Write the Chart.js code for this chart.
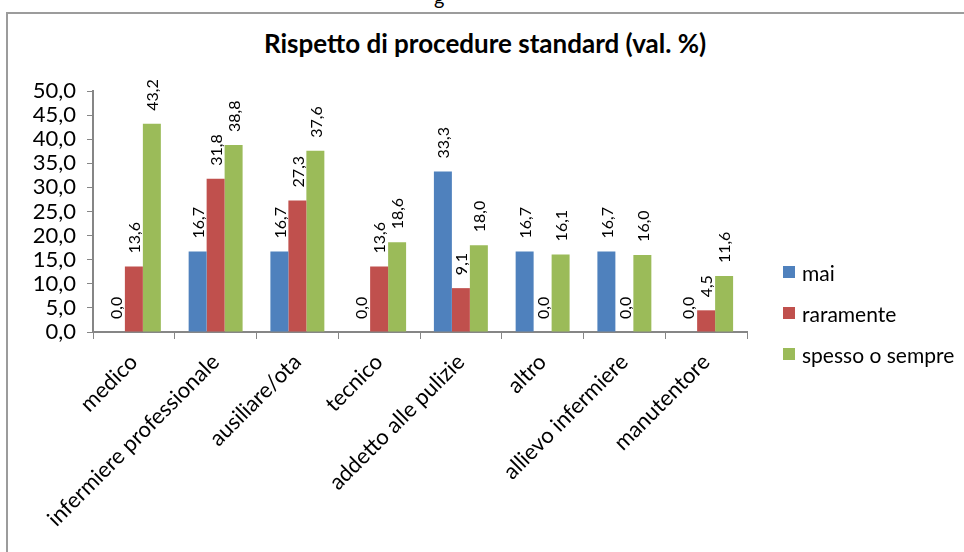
<!DOCTYPE html>
<html>
<head>
<meta charset="utf-8">
<script src="https://cdn.jsdelivr.net/npm/chart.js@4.4.1/dist/chart.umd.min.js"></script>
<style>
  body { margin: 0; background: #fff; font-family: Lato, sans-serif; }
  #wrap { position: relative; width: 964px; height: 552px; overflow: hidden; }
  #frame { position: absolute; left: 6px; top: 12px; width: 1000px; height: 600px; border: 2px solid #9c9c9c; box-sizing: border-box; }
  #cut { position: absolute; left: 434px; top: -15px; font-size: 20px; color: #000; }
  #title { position: absolute; left: 0; width: 970px; top: 27px; text-align: center; font-size: 26px; font-weight: bold; color: #000; line-height: 32px; }
  #chart { position: absolute; left: 0; top: 0; }
  #legend { position: absolute; left: 783px; top: 261px; }
  .item { display: flex; align-items: center; height: 22px; margin-bottom: 19px; font-size: 21px; color: #000; }
  .box { width: 12px; height: 12px; margin-right: 7px; }
</style>
</head>
<body>
<div id="wrap">
  <div id="cut">g</div>
  <div id="frame"></div>
  <div id="title">Rispetto di procedure standard (val. %)</div>
  <canvas id="chart" width="964" height="552"></canvas>
  <div id="legend"></div>
</div>
<script>
const categories = ['medico', 'infermiere professionale', 'ausiliare/ota', 'tecnico',
  'addetto alle pulizie', 'altro', 'allievo infermiere', 'manutentore'];
const seriesNames = ['mai', 'raramente', 'spesso o sempre'];
const maiValues = [0.0, 16.7, 16.7, 0.0, 33.3, 16.7, 16.7, 0.0];
const raramenteValues = [13.6, 31.8, 27.3, 13.6, 9.1, 0.0, 0.0, 4.5];
const spessoValues = [43.2, 38.8, 37.6, 18.6, 18.0, 16.1, 16.0, 11.6];
const colors = ['#4f81bd', '#c0504d', '#9bbb59'];

const fmt = v => v.toFixed(1).replace('.', ',');

// etichette dei valori ruotate sopra le barre
const valueLabels = {
  id: 'valueLabels',
  afterDatasetsDraw(chart) {
    const ctx = chart.ctx;
    ctx.save();
    ctx.font = '16px Lato';
    ctx.fillStyle = '#000';
    ctx.textAlign = 'left';
    ctx.textBaseline = 'middle';
    chart.data.datasets.forEach((ds, i) => {
      chart.getDatasetMeta(i).data.forEach((bar, j) => {
        ctx.save();
        ctx.translate(bar.x + 1, bar.y - 13);
        ctx.rotate(-Math.PI / 2);
        ctx.fillText(fmt(ds.data[j]), 0, 0);
        ctx.restore();
      });
    });
    ctx.restore();
  }
};

const datasets = [maiValues, raramenteValues, spessoValues].map((data, i) => ({
  label: seriesNames[i],
  data: data,
  backgroundColor: colors[i],
  borderWidth: 0,
  categoryPercentage: 0.66,
  barPercentage: 1.0
}));

const chart = new Chart(document.getElementById('chart'), {
  type: 'bar',
  data: { labels: categories, datasets: datasets },
  plugins: [valueLabels],
  options: {
    responsive: false,
    animation: false,
    layout: { padding: { left: 13, right: 217, top: 91, bottom: 0 } },
    plugins: {
      legend: { display: false },
      tooltip: { enabled: false }
    },
    scales: {
      x: {
        afterFit(scale) { scale.height = 220; },
        grid: { drawOnChartArea: false, tickLength: 7, color: '#868686' },
        border: { color: '#868686', width: 2 },
        ticks: {
          color: '#000',
          font: { family: 'Lato', size: 22 },
          minRotation: 45,
          maxRotation: 45,
          padding: 10
        }
      },
      y: {
        min: 0,
        max: 50,
        afterFit(scale) { scale.width = 80; },
        grid: { drawOnChartArea: false, tickLength: 6, color: '#868686' },
        border: { color: '#868686', width: 2 },
        ticks: {
          stepSize: 5,
          autoSkip: false,
          color: '#000',
          font: { family: 'Lato', size: 22 },
          padding: 11,
          callback: v => fmt(v)
        }
      }
    }
  }
});

const legend = document.getElementById('legend');
datasets.forEach(ds => {
  const item = document.createElement('div');
  item.className = 'item';
  item.innerHTML = '<span class="box" style="background:' + ds.backgroundColor + '"></span>' + ds.label;
  legend.appendChild(item);
});
</script>
</body>
</html>
